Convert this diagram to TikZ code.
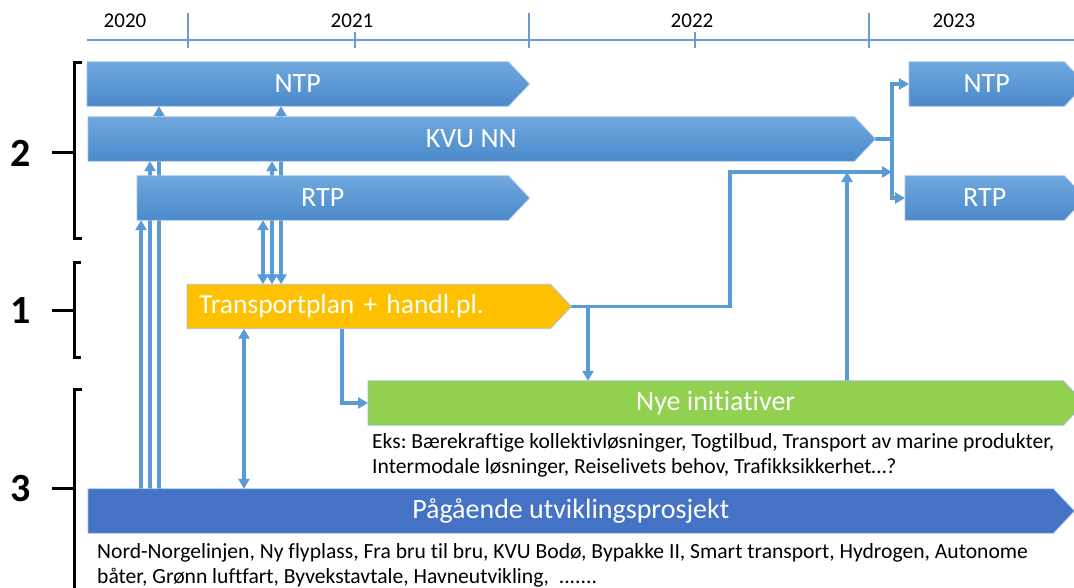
\documentclass[tikz,border=0pt]{standalone}
\usepackage{fontspec}
\setmainfont{Carlito}[Ligatures=CommonOff]
\usetikzlibrary{arrows.meta}
\definecolor{barTop}{HTML}{70A8DE}
\definecolor{barBot}{HTML}{4A89CA}
\definecolor{barEdge}{HTML}{A3C1E5}
\definecolor{planFill}{HTML}{FFC000}
\definecolor{nyeFill}{HTML}{92D050}
\definecolor{prosjFill}{HTML}{4472C4}
\definecolor{link}{HTML}{5B9BD5}
\definecolor{axisCol}{HTML}{6C9BCF}
\pgfdeclarelayer{bg}
\pgfdeclarelayer{wires}
\pgfsetlayers{wires,bg,main}
\tikzset{bar/.style={rectangle, anchor=west, minimum height=44pt, inner sep=0pt, text=white, font=\fontsize{28}{30}\selectfont},
  bluebar/.style={top color=barTop, bottom color=barBot, draw=barEdge, line width=0.8pt},
  conn/.style={draw=link, line width=3.3pt},
  arrow/.style={conn, -{Triangle[width=11pt,length=10pt]}},
  darrow/.style={conn, {Triangle[width=11pt,length=10pt]}-{Triangle[width=11pt,length=10pt]}},
  note/.style={anchor=north west, inner sep=0pt, align=left, font=\fontsize{21.6}{25}\selectfont},
  year/.style={font=\fontsize{21}{22}\selectfont},
  level/.style={font=\bfseries\fontsize{40}{42}\selectfont},
  brace/.style={line width=3pt},
  axis/.style={draw=axisCol, line width=1.8pt}}
% chevron behind a bar node: name, tip depth, style
\newcommand{\chevron}[3]{\path[#3] (#1.north west) -- (#1.north east) -- ([xshift=#2pt]#1.east) coordinate (#1-tip) -- (#1.south east) -- (#1.south west) -- cycle;}

\begin{document}
\frenchspacing
\begin{tikzpicture}[x=1pt,y=-1pt]
    \useasboundingbox (0,0) rectangle (1074,587);
    \clip (0,0) rectangle (1074,587);

    % time axis
    \draw[axis] (87,40) -- (1074,40);
    \foreach \xpos in {188,529,869}
        \draw[axis] (\xpos,13) -- (\xpos,48);
    \foreach \xpos in {355,695}
        \draw[axis] (\xpos,32) -- (\xpos,48);
    \node[year] (y2020) at (125,21) {2020};
    \node[year] (y2021) at (352,21) {2021};
    \node[year] (y2022) at (692,21) {2022};
    \node[year] (y2023) at (954,21) {2023};

    % levels
    \node[level] (lvl2) at (21,153) {2};
    \node[level] (lvl1) at (21,311) {1};
    \node[level] (lvl3) at (21,489) {3};
    \draw[brace] (82,62) -- (74,62) -- (74,238) -- (82,238) (52,152) -- (74,152);
    \draw[brace] (81,262) -- (74,262) -- (74,357) -- (81,357) (52,310) -- (74,310);
    \draw[brace] (82,389) -- (74,389) -- (74,600) (52,488) -- (74,488);

    % bars
    \node[bar, minimum width=421pt] (ntp) at (87,84) {NTP};
    \node[bar, minimum width=766pt] (kvu) at (88,139) {KVU NN};
    \node[bar, minimum width=371pt] (rtp) at (137,198) {RTP};
    \node[bar, minimum width=155pt] (ntpnext) at (909,84) {NTP};
    \node[bar, minimum width=159pt] (rtpnext) at (905,198) {RTP};
    \node[bar, minimum width=363pt, text width=339pt, inner xsep=12pt, align=left, font=\fontsize{27.5}{30}\selectfont] (plan) at (187,306.5) {Transportplan + handl.pl.};
    \node[bar, minimum width=695pt] (nye) at (368,403) {Nye initiativer};
    \node[bar, minimum width=965pt] (prosj) at (88,511) {Pågående utviklingsprosjekt};

    \node[note] (eks) at (372,433) {Eks: Bærekraftige kollektivløsninger, Togtilbud, Transport av marine produkter,\\Intermodale løsninger, Reiselivets behov, Trafikksikkerhet…?};
    \node[note] (liste) at (97,543) {Nord-Norgelinjen, Ny flyplass, Fra bru til bru, KVU Bodø, Bypakke II, Smart transport, Hydrogen, Autonome\\båter, Grønn luftfart, Byvekstavtale, Havneutvikling,\ \ .......};

    \begin{pgfonlayer}{bg}
    \chevron{ntp}{21}{bluebar}
    \chevron{kvu}{21}{bluebar}
    \chevron{rtp}{21}{bluebar}
    \chevron{ntpnext}{21}{bluebar}
    \chevron{rtpnext}{21}{bluebar}
    \chevron{plan}{21}{fill=planFill, draw=barEdge, line width=0.8pt}
    \chevron{nye}{21}{fill=nyeFill, draw=barEdge, line width=0.8pt}
    \chevron{prosj}{21}{fill=prosjFill, draw=barEdge, line width=0.8pt}
    \end{pgfonlayer}

    \begin{pgfonlayer}{wires}
    \foreach \xpos/\target in {141/rtp,150/kvu,159/ntp}
        \draw[arrow] (prosj.north -| \xpos,0) -- (\target.south -| \xpos,0);
    \foreach \xpos/\target in {263/rtp,272/kvu,281/ntp}
        \draw[darrow] (plan.north -| \xpos,0) -- (\target.south -| \xpos,0);
    \draw[darrow] (plan.south -| 244,0) -- (prosj.north -| 244,0);
    \draw[arrow] (plan.south -| 342,0) |- (nye.west);

    \coordinate (drop) at (plan-tip -| 588,0);
    \coordinate (merge) at (892,172);
    \draw[arrow] (drop) -- (nye.north -| drop);
    \draw[arrow] (plan-tip) -| (merge -| 730,0) -- (merge);
    \draw[arrow] (nye.north -| 847,0) -- (merge -| 847,0);

    \draw[conn] (kvu-tip) -- (kvu-tip -| merge);
    \draw[arrow] (kvu-tip -| merge) |- (ntpnext.west);
    \draw[arrow] (kvu-tip -| merge) |- (rtpnext.west);
    \end{pgfonlayer}
\end{tikzpicture}
\end{document}
